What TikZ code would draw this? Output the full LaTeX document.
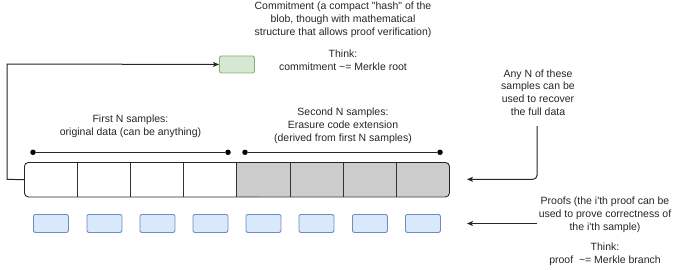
\documentclass[tikz,border=0pt]{standalone}
\usepackage{fontspec}
\setmainfont{Liberation Sans}
\usetikzlibrary{arrows.meta}
\begin{document}
\begin{tikzpicture}[x=1pt,y=-1pt,
  txt/.style={align=center,inner sep=0pt,font=\fontsize{10.5}{12.8}\selectfont,text=black!85},
  cell/.style={draw=black!80,line width=0.9pt},
  arr/.style={draw=black!85,line width=1pt,-{Stealth[length=6pt,width=5pt,inset=1.5pt]}},
  brace/.style={draw=black!85,line width=1pt},
  dot/.style={circle,fill=black,inner sep=0pt,minimum size=5.5pt}]
\definecolor{pbfill}{HTML}{DAE8FC}
\definecolor{pbdraw}{HTML}{6C8EBF}
\definecolor{gfill}{HTML}{D5E8D4}
\definecolor{gdraw}{HTML}{82B366}
\definecolor{grey}{HTML}{CCCCCC}
\useasboundingbox (0,0) rectangle (680,269);
% bar
\fill[grey,rounded corners=4pt] (236,162) rectangle (449,196.5);
\fill[grey] (236,162) rectangle (260,196.5);
\foreach \x in {77,130,183,236,290,343,396} \draw[cell] (\x,162) -- (\x,196.5);
\node[draw=black!85,line width=0.9pt,rounded corners=4pt,minimum width=425pt,minimum height=34.5pt,inner sep=0pt,anchor=north west] (bar) at (24,162) {};
% commitment
\node[draw=gdraw,fill=gfill,rounded corners=2pt,line width=0.9pt,minimum width=35pt,minimum height=17pt,inner sep=0pt,anchor=north west] (commit) at (219,55.5) {};
\coordinate (c1) at (7,179.3);
\coordinate (c2) at (7,64);
\draw[arr] (bar.west) -- (c1) -- (c2) -- (commit.west);
\node[txt] (ctext) at (343,20) {Commitment (a compact \textquotedbl hash\textquotedbl\ of the\\blob, though with mathematical\\structure that allows proof verification)};
\node[txt] (cthink) at (343,60.5) {Think:\\commitment \textasciitilde= Merkle root};
% ranges
\node[dot] (d1) at (33,152.3) {};
\node[dot] (d2) at (228,152.3) {};
\node[dot] (d3) at (245,152.3) {};
\node[dot] (d4) at (440,152.3) {};
\draw[brace] (d1) -- (d2);
\draw[brace] (d3) -- (d4);
\node[txt] (first) at (130.5,126.5) {First N samples:\\original data (can be anything)};
\node[txt] (second) at (343,126) {Second N samples:\\Erasure code extension\\(derived from first N samples)};
% proofs
\foreach \x [count=\i] in {33,86.5,139.5,192.5,245.5,298.5,352,405}
  \node[draw=pbdraw,fill=pbfill,rounded corners=2pt,line width=0.9pt,minimum width=35pt,minimum height=18pt,inner sep=0pt,anchor=north west] (p\i) at (\x,214) {};
% right notes
\node[txt] (anyn) at (538,92.5) {Any N of these\\samples can be\\used to recover\\the full data};
\coordinate (a1) at (537,126);
\coordinate (a2) at (537,179.3);
\coordinate (a3) at (467,179.3);
\draw[arr,rounded corners=4pt] (a1) -- (a2) -- (a3);
\node[txt] (proofs) at (605,215) {Proofs (the i\textquotesingle th proof can be\\used to prove correctness of\\the i\textquotesingle th sample)};
\coordinate (b1) at (537,223.5);
\coordinate (b2) at (467,223.5);
\draw[arr] (b1) -- (b2);
\node[txt] (pthink) at (605,254.5) {Think:\\proof\ \ \textasciitilde= Merkle branch};
\end{tikzpicture}
\end{document}
